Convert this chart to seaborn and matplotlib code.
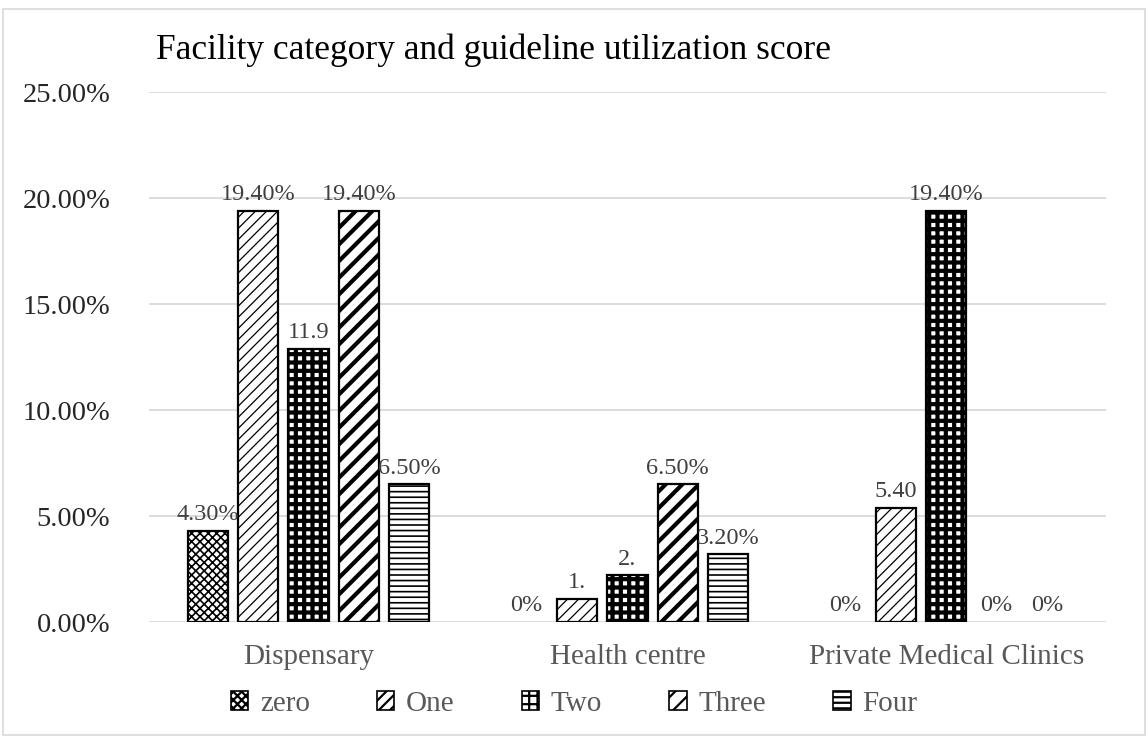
import numpy as np
import pandas as pd
import matplotlib
matplotlib.use('Agg')
import matplotlib.pyplot as plt
import matplotlib.patches as patches
import seaborn as sns

categories = ['Dispensary', 'Health centre', 'Private Medical Clinics']
series = ['zero', 'One', 'Two', 'Three', 'Four']

# percent values per series, one entry per category
zero = [4.3, 0.0, 0.0]
one = [19.4, 1.1, 5.4]
two = [12.9, 2.2, 19.4]
three = [19.4, 6.5, 0.0]
four = [6.5, 3.2, 0.0]

# data labels as they appear (some are clipped in the original)
labels_zero = ['4.30%', '0%', '0%']
labels_one = ['19.40%', '1.', '5.40']
labels_two = ['11.9', '2.', '19.40%']
labels_three = ['19.40%', '6.50%', '0%']
labels_four = ['6.50%', '3.20%', '0%']

values = [zero, one, two, three, four]
labels = [labels_zero, labels_one, labels_two, labels_three, labels_four]

rows = []
for s, vals in zip(series, values):
    for c, v in zip(categories, vals):
        rows.append({'category': c, 'series': s, 'value': v})
df = pd.DataFrame(rows)

sns.set_style('white')
plt.rcParams['font.family'] = ['Liberation Serif', 'DejaVu Serif']
plt.rcParams['hatch.linewidth'] = 1.6

fig = plt.figure(figsize=(11.48, 7.37), dpi=100)
ax = fig.add_axes([0.130, 0.156, 0.833, 0.719])

sns.barplot(data=df, x='category', y='value', hue='series', hue_order=series,
            order=categories, palette=['white'] * 5, width=0.79, gap=0.2,
            edgecolor='black', linewidth=1.6, ax=ax, legend=False)

hatches = ['xxxx', '///', '++', '//', '---']
hatch_lw = [1.2, 0.9, 3.0, 3.0, 1.2]


def style_patch(p, h, lw):
    p.set_hatch(h)
    p.set_edgecolor('black')
    if hasattr(p, 'set_hatch_linewidth'):
        p.set_hatch_linewidth(lw)


for cont, h, lw, labs in zip(ax.containers, hatches, hatch_lw, labels):
    for bar in cont:
        style_patch(bar, h, lw)
        if bar.get_height() == 0:
            bar.set_linewidth(0)
    ax.bar_label(cont, labels=labs, padding=4, fontsize=17.5, color='#404040')

ax.set_ylim(0, 25)
ax.set_yticks(np.arange(0, 25.01, 5))
ax.set_yticklabels([f'{t:.2f}%' for t in np.arange(0, 25.01, 5)], fontsize=20.5)
ax.tick_params(axis='x', labelsize=21, labelcolor='#595959', length=0, pad=16)
ax.tick_params(axis='y', length=0, pad=28)
ax.set_xlabel('')
ax.set_ylabel('')
ax.yaxis.grid(True, color='#d9d9d9', linewidth=1.3)
ax.set_axisbelow(True)
for sp in ax.spines.values():
    sp.set_visible(False)

leg_handles = []
for h, lw in zip(hatches, hatch_lw):
    r = patches.Rectangle((0, 0), 1, 1, facecolor='white', edgecolor='black', linewidth=1.2)
    style_patch(r, h, min(lw, 1.5))
    leg_handles.append(r)
fig.legend(leg_handles, series, loc='center', bbox_to_anchor=(0.5, 0.045), ncol=5,
           frameon=False, fontsize=21, handlelength=0.6, handleheight=0.6,
           columnspacing=2.3, handletextpad=0.4, labelcolor='#595959')

fig.text(0.43, 0.932, 'Facility category and guideline utilization score',
         ha='center', va='center', fontsize=25.5, color='black')

fig.patches.append(patches.Rectangle((0.003, 0.003), 0.994, 0.985, transform=fig.transFigure,
                                     fill=False, edgecolor='#d9d9d9', linewidth=1.2))

fig.savefig('out.png', dpi=100)
